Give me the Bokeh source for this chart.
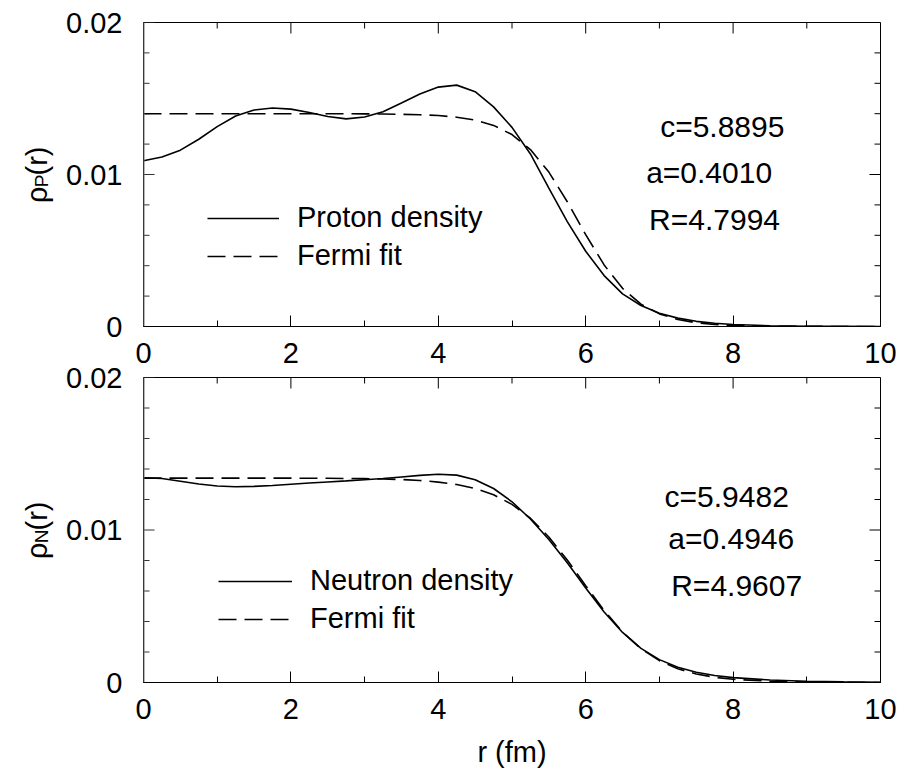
from math import pi
from bokeh.plotting import figure
from bokeh.models import (Range1d, FixedTicker, LinearAxis, Label, Legend,
                          ColumnDataSource, Span)
from bokeh.core.properties import value
from bokeh.layouts import column, row
from bokeh.embed import file_html
from bokeh.resources import INLINE

# ---------------- data ----------------
r = [0, 0.25, 0.5, 0.75, 1.0, 1.25, 1.5, 1.75, 2.0, 2.25, 2.5, 2.75, 3.0,
     3.25, 3.5, 3.75, 4.0, 4.25, 4.5, 4.75, 5.0, 5.25, 5.5, 5.75, 6.0,
     6.25, 6.5, 6.75, 7.0, 7.25, 7.5, 7.75, 8.0, 8.5, 9.0, 9.5, 10.0]

proton_density = [0.01090, 0.01115, 0.01160, 0.01232, 0.01315, 0.01385,
                  0.01424, 0.01437, 0.01430, 0.01408, 0.01382, 0.01366,
                  0.01378, 0.01413, 0.01470, 0.01530, 0.01575, 0.01588,
                  0.01545, 0.01445, 0.01310, 0.01135, 0.00910, 0.00690,
                  0.00495, 0.00335, 0.00215, 0.00138, 0.00087, 0.00055,
                  0.00034, 0.00021, 0.00013, 0.00005, 0.00002, 0.00001, 0.0]

proton_fermi = [0.01400, 0.01400, 0.01400, 0.01400, 0.01400, 0.01400,
                0.01400, 0.01400, 0.01400, 0.01400, 0.01400, 0.01400,
                0.01399, 0.01398, 0.01396, 0.01393, 0.01388, 0.01377,
                0.01358, 0.01323, 0.01263, 0.01164, 0.01016, 0.00821,
                0.00604, 0.00405, 0.00251, 0.00147, 0.00083, 0.00046,
                0.00025, 0.00013, 0.00007, 0.00002, 0.00001, 0.0, 0.0]

neutron_density = [0.01343, 0.01338, 0.01320, 0.01302, 0.01289, 0.01284,
                   0.01286, 0.01292, 0.01300, 0.01308, 0.01315, 0.01322,
                   0.01330, 0.01338, 0.01348, 0.01358, 0.01366, 0.01360,
                   0.01330, 0.01272, 0.01185, 0.01072, 0.00938, 0.00785,
                   0.00620, 0.00462, 0.00328, 0.00224, 0.00150, 0.00100,
                   0.00067, 0.00046, 0.00032, 0.00016, 0.00008, 0.00004,
                   0.00002]

neutron_fermi = [0.01340, 0.01340, 0.01340, 0.01340, 0.01340, 0.01340,
                 0.01340, 0.01340, 0.01340, 0.01339, 0.01339, 0.01338,
                 0.01337, 0.01334, 0.01331, 0.01325, 0.01314, 0.01298,
                 0.01272, 0.01231, 0.01168, 0.01077, 0.00954, 0.00803,
                 0.00635, 0.00472, 0.00331, 0.00221, 0.00143, 0.00090,
                 0.00056, 0.00034, 0.00021, 0.00008, 0.00003, 0.00001,
                 0.0]

x_ticks = [0, 2, 4, 6, 8, 10]
x_minor = [1, 3, 5, 7, 9]
y_ticks = [0, 0.01, 0.02]
y_tick_labels = ["0", "0.01", "0.02"]
y_minor = [0.002, 0.004, 0.006, 0.008, 0.012, 0.014, 0.016, 0.018]

proton_params = ["c=5.8895", "a=0.4010", "R=4.7994"]
neutron_params = ["c=5.9482", "a=0.4946", "R=4.9607"]

FONT = "Liberation Sans"
FS = "29px"

# ---------------- geometry (page pixels) ----------------
PAGE_H = 770
LEFT_W = 131                 # left strip holding the y tick labels / titles
FRAME_L = 143
TOP1, BOT1 = 22, 326         # frame of the upper panel
TOP2, BOT2 = 377, 682        # frame of the lower panel
P1_BB = 50                   # bottom border of the upper panel
YMAX = 0.02


def panel_range(top, bot):
    s = YMAX / (bot - top)
    return Range1d(-(PAGE_H - bot) * s, YMAX + top * s)


def make_left():
    f = figure(frame_width=LEFT_W, frame_height=PAGE_H, min_border=0,
               x_range=Range1d(0, LEFT_W), y_range=Range1d(PAGE_H, 0),
               output_backend="svg", toolbar_location=None,
               x_axis_type=None, y_axis_type=None)
    f.extra_y_ranges = {"top": panel_range(TOP1, BOT1),
                        "bottom": panel_range(TOP2, BOT2)}
    f.outline_line_color = None
    f.xgrid.grid_line_color = None
    f.ygrid.grid_line_color = None
    for rng in ["top", "bottom"]:
        f.text(x=[122] * len(y_ticks), y=y_ticks, text=y_tick_labels,
               y_range_name=rng, text_font=value(FONT),
               text_font_size=value(FS), text_align="right",
               text_baseline="middle", text_color="black")
    # rotated titles: rho + subscript + (r)   (anchors = upper end of each piece)
    f.text(x=[36, 41, 36, 36, 41, 36],
           y=[186, 174, 146, 542, 529, 501],
           text=["\u03c1", "P", "(r)", "\u03c1", "N", "(r)"],
           angle=pi / 2, text_font=value(FONT),
           text_font_size=["29px", "19px", "29px", "29px", "19px", "29px"],
           text_align="right", text_baseline="alphabetic",
           text_color="black")
    return f


def make_panel(dens, fit, dens_label, params, top, bot, mb_top, mb_bottom,
               leg_loc, leg_glyph_w, param_pos, show_xlabel):
    p = figure(frame_width=737, frame_height=bot - top,
               min_border_left=FRAME_L - LEFT_W, min_border_right=18,
               min_border_top=mb_top, min_border_bottom=mb_bottom,
               x_range=Range1d(0, 10), y_range=Range1d(0, YMAX),
               output_backend="svg", toolbar_location=None,
               x_axis_type=None, y_axis_type=None)
    p.outline_line_color = "black"
    p.outline_line_width = 1
    p.xgrid.grid_line_color = None
    p.ygrid.grid_line_color = None

    xb = LinearAxis(ticker=FixedTicker(ticks=x_ticks, minor_ticks=x_minor))
    xb.axis_line_color = "black"
    xb.major_tick_line_color = "black"
    xb.minor_tick_line_color = "black"
    xb.major_tick_in = 11
    xb.major_tick_out = 0
    xb.minor_tick_in = 6
    xb.minor_tick_out = 0
    xb.major_label_text_font = FONT
    xb.major_label_text_color = "black"
    xb.major_label_text_font_size = FS
    xb.major_label_standoff = 16
    if show_xlabel:
        xb.axis_label = "r (fm)"
        xb.axis_label_text_font = FONT
        xb.axis_label_text_font_size = FS
        xb.axis_label_text_font_style = "normal"
        xb.axis_label_text_color = "black"
        xb.axis_label_standoff = 14
    p.add_layout(xb, "below")

    # left spine (grey) and inward ticks on left, top and right edges
    p.add_layout(Span(location=0, dimension="height", line_color="#6f6f6f",
                      line_width=2))
    p.ray(x=[0] * len(y_ticks), y=y_ticks, length=11, length_units="screen",
          angle=0, line_color="#333333", line_width=1)
    p.ray(x=[0] * len(y_minor), y=y_minor, length=6, length_units="screen",
          angle=0, line_color="#333333", line_width=1)
    p.ray(x=x_ticks, y=[YMAX] * len(x_ticks), length=11, length_units="screen",
          angle=-pi / 2, line_color="black", line_width=1)
    p.ray(x=x_minor, y=[YMAX] * len(x_minor), length=6, length_units="screen",
          angle=-pi / 2, line_color="black", line_width=1)
    p.ray(x=[10] * len(y_ticks), y=y_ticks, length=11, length_units="screen",
          angle=pi, line_color="black", line_width=1)
    p.ray(x=[10] * len(y_minor), y=y_minor, length=6, length_units="screen",
          angle=pi, line_color="black", line_width=1)

    src = ColumnDataSource(dict(r=r, dens=dens, fit=fit))
    r1 = p.line("r", "dens", source=src, line_color="black", line_width=1.6)
    r2 = p.line("r", "fit", source=src, line_color="black", line_width=1.6,
                line_dash="18 8")

    leg = Legend(items=[(dens_label, [r1]), ("Fermi fit", [r2])],
                 location=leg_loc, orientation="vertical")
    leg.border_line_color = None
    leg.background_fill_alpha = 0
    leg.padding = 0
    leg.margin = 0
    leg.spacing = 5
    leg.glyph_width = leg_glyph_w
    leg.glyph_height = 30
    leg.label_height = 30
    leg.label_standoff = 18
    leg.label_text_font = FONT
    leg.label_text_font_size = FS
    leg.label_text_color = "black"
    p.add_layout(leg)

    for txt, (px, py) in zip(params, param_pos):
        p.add_layout(Label(x=px, y=py, text=txt, text_font=FONT,
                           text_font_size="30px", text_align="left",
                           text_baseline="middle", text_color="black"))
    return p


p1 = make_panel(proton_density, proton_fermi, "Proton density",
                proton_params, TOP1, BOT1, TOP1, P1_BB, (64, 54), 72,
                [(7.01, 0.01314), (6.82, 0.01012), (6.86, 0.00704)], False)
p1_h = TOP1 + (BOT1 - TOP1) + P1_BB
p2 = make_panel(neutron_density, neutron_fermi, "Neutron density",
                neutron_params, TOP2, BOT2, TOP2 - p1_h,
                PAGE_H - BOT2, (75, 47), 74,
                [(7.07, 0.01222), (7.12, 0.00946), (7.16, 0.00638)], True)

left = make_left()
layout = row(left, column(p1, p2, spacing=0), spacing=0)
open("out.html", "w").write(file_html(layout, INLINE))
